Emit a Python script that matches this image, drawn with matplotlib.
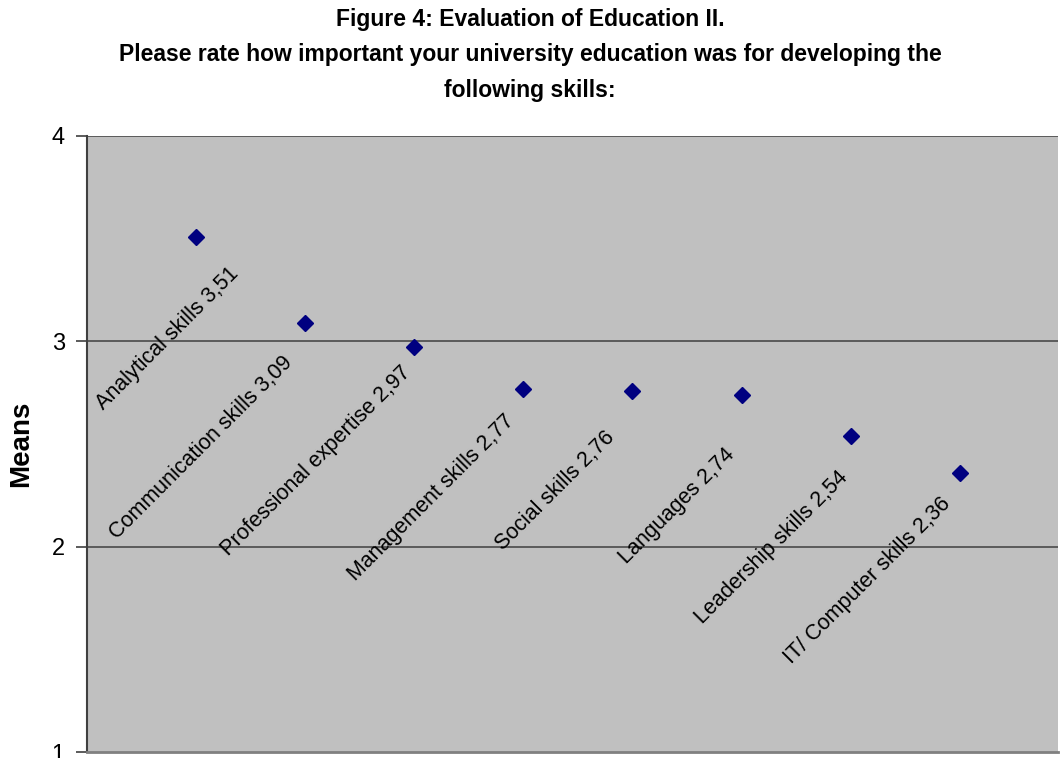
import matplotlib.pyplot as plt

# Means per skill (scale 1-4)
skills = ['Analytical skills', 'Communication skills', 'Professional expertise',
          'Management skills', 'Social skills', 'Languages',
          'Leadership skills', 'IT/ Computer skills']
means = [3.51, 3.09, 2.97, 2.77, 2.76, 2.74, 2.54, 2.36]
y_ticks = [1, 2, 3, 4]

# where each label's top-right corner sits relative to its marker (pixels)
label_dx = [47, -8, 1, -5, -14, -3, 2, -5]
label_dy = [-27, -29, -15, -22, -36, -49, -31, -21]

plt.rcParams['font.family'] = ['Liberation Sans', 'DejaVu Sans']

fig = plt.figure(figsize=(10.6, 7.58), dpi=100)
ax = fig.add_axes([0.0821, 0.0079, 0.9159, 0.8127])
ax.set_facecolor('#C0C0C0')

x = list(range(1, len(means) + 1))
ax.plot(x, means, linestyle='none', marker='D', markersize=8,
        color='#000080', zorder=3)

for i, (name, val) in enumerate(zip(skills, means)):
    txt = f"{name} {val:.2f}".replace('.', ',')
    ax.annotate(txt, xy=(x[i], val), xytext=(label_dx[i], label_dy[i]),
                textcoords='offset pixels', rotation=45,
                ha='right', va='top', fontsize=15.5, color='black', zorder=4)

ax.set_xlim(0, 8.9)
ax.set_ylim(1, 4)
ax.set_yticks(y_ticks)
ax.set_yticklabels([str(t) for t in y_ticks], fontsize=17)
ax.set_xticks([])
ax.tick_params(axis='y', length=8, width=1.2, color='#404040', pad=8)

for t in y_ticks[1:]:
    ax.axhline(t, color='#4a4a4a', linewidth=1.2, zorder=1)

ax.spines['right'].set_visible(False)
ax.spines['top'].set_visible(False)
ax.spines['left'].set_color('#404040')
ax.spines['left'].set_linewidth(1.5)
ax.spines['bottom'].set_color('#808080')
ax.spines['bottom'].set_linewidth(2)

ax.set_ylabel('Means', fontsize=20, fontweight='bold')
ax.yaxis.set_label_coords(-0.054, 0.5)

fig.text(0.5, 0.99, 'Figure 4: Evaluation of Education II.\n'
         'Please rate how important your university education was for developing the\n'
         'following skills:', ha='center', va='top', fontsize=16.5,
         fontweight='bold', linespacing=1.7)

fig.savefig('out.png', dpi=100)
